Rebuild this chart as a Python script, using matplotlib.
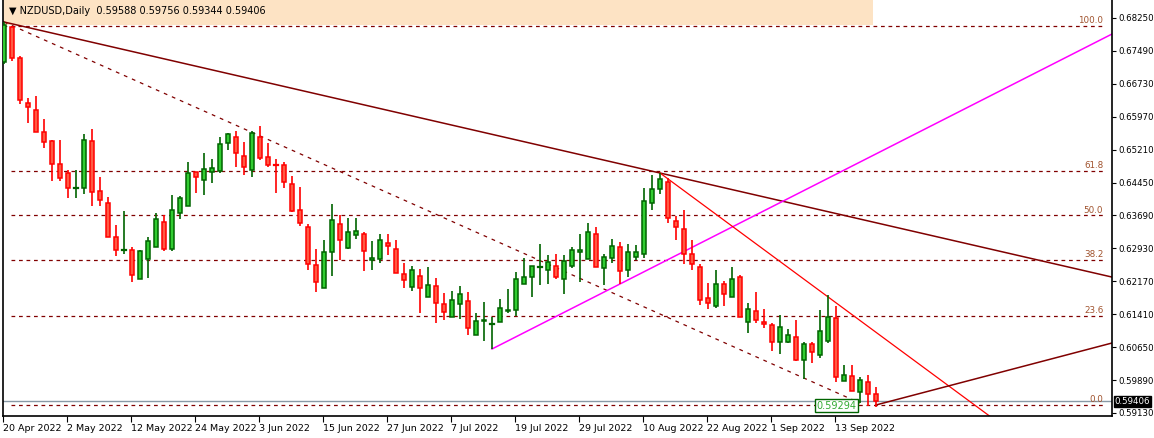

import matplotlib
matplotlib.use("Agg")
import matplotlib.pyplot as plt
from matplotlib.patches import Rectangle

B = 0.59
O_ = [8234,9042,8326,7287,7126,6618,6410,5879,5671,5325,
      5325,6410,5256,4979,4194,3893,3893,3224,3686,3963,
      4540,3916,4748,4909,5694,5510,5694,5717,6364,6502,
      6064,5740,6502,6041,5858,5858,5417,4817,4424,3547,
      3016,3847,4494,3940,4240,4263,3662,3686,4055,3916,
      3339,3039,3293,2808,3062,2647,2346,2647,2716,1931,
      2254,2185,2231,2485,2508,3108,3270,3501,3432,3524,
      3224,3524,3847,3686,4263,3478,3709,3963,3432,3732,
      3801,4979,5302,5463,4563,4378,3801,3501,2785,2600,
      3108,2808,3270,2231,2485,2231,2162,1769,1769,1885,
      1354,1723,1469,1792,2323,869,984,615,846,569]
H_ = [9158,9065,8373,7403,7449,6918,6433,6433,5740,5740,
      6572,6687,5579,5117,4471,4794,3963,3893,4194,4748,
      4701,5163,5140,5925,5694,6133,5994,6502,6595,6641,
      6387,6641,6756,6364,5994,5925,5602,5348,4494,3916,
      4124,4955,4701,4632,4632,4309,4101,4263,4263,4124,
      3593,3524,3455,3501,3247,2901,2947,3062,2924,2439,
      2693,2346,2762,2993,3385,3709,3524,4032,3778,3801,
      3778,3963,4263,4517,4424,3801,4147,4078,4032,4009,
      5325,5625,5671,5556,4678,4817,4124,3570,3131,3432,
      3178,3501,3316,2670,2924,2531,2208,2393,2069,2277,
      1769,1769,2508,2854,2600,1238,1238,961,1007,730]
opens = [B + v / 1e5 for v in O_]
highs = [B + v / 1e5 for v in H_]
lows = [0.67188,0.67257,0.66264,0.65826,0.65618,0.65248,0.64486,0.64486,0.64094,0.64094,0.64186,0.63909,0.63909,0.63194,0.62755,0.62801,0.62155,0.62224,0.62247,0.62963,0.62870,0.62870,0.63609,0.63909,0.64209,0.64163,0.64440,0.64671,0.65202,0.64810,0.64625,0.64579,0.64971,0.64810,0.64209,0.64325,0.63771,0.63447,0.62432,0.61924,0.62016,0.62293,0.62662,0.62916,0.63147,0.62408,0.62432,0.62593,0.62778,0.62362,0.62016,0.61947,0.61439,0.61808,0.61208,0.61277,0.61346,0.61300,0.60931,0.60931,0.60792,0.60608,0.61231,0.61439,0.61369,0.62108,0.61808,0.62085,0.62108,0.62224,0.61877,0.62478,0.62155,0.62686,0.62501,0.62085,0.62593,0.62108,0.62270,0.62662,0.62709,0.63817,0.64186,0.63517,0.63124,0.62570,0.62432,0.61623,0.61531,0.61554,0.61600,0.61808,0.61346,0.60977,0.61208,0.61092,0.60561,0.60492,0.60746,0.60330,0.59915,0.60284,0.60400,0.60746,0.59846,0.59869,0.59638,0.59361,0.59291,0.59268]
closes = [0.68088,0.67326,0.66357,0.66195,0.65618,0.65387,0.64879,0.64556,0.64325,0.64325,0.65433,0.64233,0.64048,0.63194,0.62893,0.62893,0.62316,0.62870,0.63101,0.63609,0.62916,0.63817,0.64094,0.64671,0.64579,0.64764,0.64787,0.65341,0.65572,0.65133,0.64810,0.65595,0.65018,0.64856,0.64856,0.64463,0.63794,0.63517,0.62570,0.62155,0.62847,0.63586,0.63124,0.63309,0.63332,0.62870,0.62709,0.63124,0.62986,0.62362,0.62201,0.62432,0.62016,0.62085,0.61670,0.61462,0.61739,0.61877,0.61092,0.61254,0.61277,0.61185,0.61554,0.61508,0.62224,0.62270,0.62524,0.62501,0.62616,0.62270,0.62639,0.62893,0.62893,0.63309,0.62501,0.62732,0.62986,0.62408,0.62847,0.62847,0.64025,0.64302,0.64533,0.63632,0.63424,0.62801,0.62570,0.61739,0.61670,0.62108,0.61877,0.62224,0.61346,0.61531,0.61277,0.61185,0.60769,0.61115,0.60931,0.60354,0.60723,0.60538,0.61023,0.61346,0.59961,0.60007,0.59638,0.59892,0.59569,0.59406]

date_ticks = [0, 8, 16, 24, 32, 40, 48, 56, 64, 72, 80, 88, 96, 104]
date_labels = ["20 Apr 2022", "2 May 2022", "12 May 2022", "24 May 2022", "3 Jun 2022",
               "15 Jun 2022", "27 Jun 2022", "7 Jul 2022", "19 Jul 2022", "29 Jul 2022",
               "10 Aug 2022", "22 Aug 2022", "1 Sep 2022", "13 Sep 2022"]
price_ticks = [0.59130 + 0.0076 * k for k in range(13)]
fib_high, fib_low = 0.6807, 0.5931
fib_levels = [1.0, 0.618, 0.5, 0.382, 0.236, 0.0]
fib_names = ["100.0", "61.8", "50.0", "38.2", "23.6", "0.0"]
last_price = 0.59406
low_label = 0.59294

fig = plt.figure(figsize=(11.54, 4.38), dpi=100)
ax = fig.add_axes([3/1154, 22/438, 1109/1154, 416/438])
ax.set_xlim(-0.125, 138.5)
ax.set_ylim(0.590606, 0.686656)

maroon = "#800000"
for i in range(len(opens)):
    o, h, l, c = opens[i], highs[i], lows[i], closes[i]
    up = c >= o
    ec = "#006400" if up else "#ff0000"
    fc = "#32cd32" if up else "#ff5a44"
    ax.plot([i, i], [l, h], color=ec, lw=1.2, zorder=3, solid_capstyle="butt")
    bot, top = min(o, c), max(o, c)
    if top - bot < 0.0002:
        ax.plot([i - 0.3, i + 0.3], [o, o], color=ec, lw=1.6, zorder=4)
    else:
        ax.add_patch(Rectangle((i - 0.3, bot), 0.6, top - bot, facecolor=fc,
                               edgecolor=ec, lw=1.1, zorder=4))

for lev, nm in zip(fib_levels, fib_names):
    p = fib_low + (fib_high - fib_low) * lev
    ax.plot([0.9 if lev < 1 else -0.1, 137.6], [p, p], color=maroon, lw=0.9,
            ls=(0, (3, 3)), zorder=2)
    ax.text(137.4, p + 0.0002, nm, color="#a0522d", fontsize=6.3, ha="right", va="bottom")

ax.axhline(last_price, color="#8899a6", lw=1.0, zorder=2)

s1 = (0.64671 - highs[0]) / 82
ax.plot([0, 138.5], [highs[0], highs[0] + s1 * 138.5], color=maroon, lw=1.1, zorder=2)
ax.plot([0, 107], [highs[0], 0.5936], color=maroon, lw=0.9, ls=(0, (3, 4)), zorder=2)
ax.plot([61, 138.5], [lows[61], 0.6788], color="#ff00ff", lw=1.1, zorder=2)
ax.plot([82, 124], [highs[82], 0.5895], color="#ff0000", lw=0.9, zorder=2)
ax.plot([109, 138.5], [0.59315, 0.60746], color=maroon, lw=1.1, zorder=2)

ax.text(106.6, low_label, f"{low_label:.5f}", color="#33aa33", fontsize=7, ha="right",
        va="center", zorder=6,
        bbox=dict(boxstyle="square,pad=0.15", fc="white", ec="#006400", lw=1))

ax.add_patch(Rectangle((0, 1 - 25/416), 870/1109, 25/416, transform=ax.transAxes,
                       facecolor="#fde3c4", edgecolor="none", zorder=1))
ax.text(6/1109, 1 - 11/416, "▼ NZDUSD,Daily  0.59588 0.59756 0.59344 0.59406",
        transform=ax.transAxes, fontsize=7, va="center", ha="left", color="#000000", zorder=6)

ax.spines["top"].set_visible(False)
for sp in ["left", "right", "bottom"]:
    ax.spines[sp].set_linewidth(1.2)
ax.yaxis.tick_right()
ax.set_yticks(price_ticks)
ax.set_yticklabels([f"{p:.5f}" for p in price_ticks])
ax.tick_params(axis="y", labelsize=6.2, length=3, pad=1.5, direction="out")
ax.set_xticks([t - 0.125 for t in date_ticks])
ax.set_xticklabels(date_labels, ha="left")
ax.tick_params(axis="x", labelsize=6.8, length=4, pad=2, direction="out")
ax.text(1.0025, last_price, f"{last_price:.5f}", transform=ax.get_yaxis_transform(),
        fontsize=6.2, color="white", va="center", ha="left", zorder=7,
        bbox=dict(boxstyle="square,pad=0.12", fc="black", ec="black"))

fig.savefig("out.png", dpi=100)
